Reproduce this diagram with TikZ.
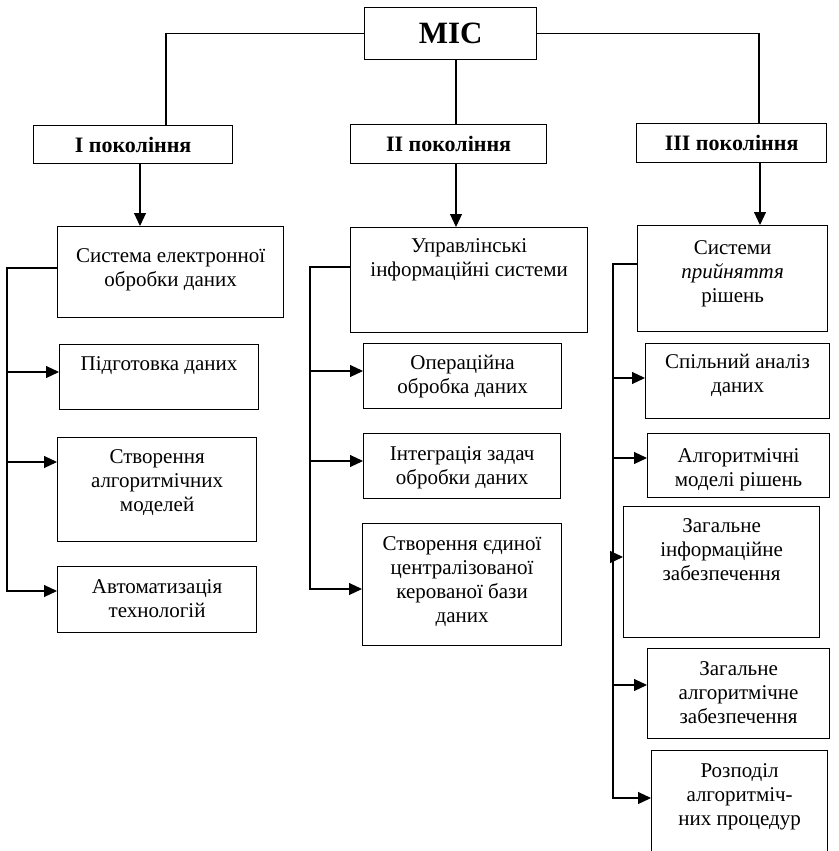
\documentclass[tikz,border=0pt]{standalone}
\usepackage{fontspec}
\setmainfont{Liberation Serif}
\usetikzlibrary{arrows.meta}
\newcommand{\tl}[1]{\begin{tabular}[t]{@{}c@{}}#1\end{tabular}}
\begin{document}
\begin{tikzpicture}[x=1pt,y=-1pt,
  box/.style={draw, line width=1.2pt, inner sep=0pt, anchor=north west},
  txt/.style={inner sep=0pt, anchor=base, font=\fontsize{21}{24}\selectfont},
  hdr/.style={draw, line width=1.2pt, inner sep=0pt, anchor=north west, font=\fontsize{22}{26}\selectfont\bfseries},
  ln/.style={line width=1.1pt},
  arr/.style={line width=1.1pt, -{Triangle[length=13pt,width=12pt]}},
]
\useasboundingbox (0,0) rectangle (838,851);
\fill[white] (0,0) rectangle (838,851);
\clip (0,0) rectangle (838,851);

% top and generation headers
\node[hdr, font=\fontsize{31}{34}\selectfont\bfseries, minimum width=172, minimum height=52] (mic) at (364,7) {МІС};
\node[hdr, minimum width=199, minimum height=38] (g1) at (33,125) {І покоління};
\node[hdr, minimum width=196, minimum height=39] (g2) at (350,124) {ІІ покоління};
\node[hdr, minimum width=190, minimum height=39] (g3) at (636,123) {ІІІ покоління};

% column I
\node[box, minimum width=226, minimum height=91] (s1) at (57,226) {};
\node[txt] (ts1) at ([yshift=-36pt]s1.north) {\tl{Система електронної\\обробки даних}};
\node[box, minimum width=199, minimum height=65] (a1) at (59,344) {};
\node[txt] (ta1) at ([yshift=-26pt]a1.north) {\tl{Підготовка даних}};
\node[box, minimum width=199, minimum height=104] (a2) at (57,437) {};
\node[txt] (ta2) at ([yshift=-26pt]a2.north) {\tl{Створення\\алгоритмічних\\моделей}};
\node[box, minimum width=199, minimum height=66] (a3) at (57,566) {};
\node[txt] (ta3) at ([yshift=-27pt]a3.north) {\tl{Автоматизація\\технологій}};

% column II
\node[box, minimum width=237, minimum height=105] (s2) at (350,227) {};
\node[txt] (ts2) at ([yshift=-25pt]s2.north) {\tl{Управлінські\\інформаційні системи}};
\node[box, minimum width=198, minimum height=65] (b1) at (363,343) {};
\node[txt] (tb1) at ([yshift=-26pt]b1.north) {\tl{Операційна\\обробка даних}};
\node[box, minimum width=197, minimum height=65] (b2) at (363,433) {};
\node[txt] (tb2) at ([yshift=-27pt]b2.north) {\tl{Інтеграція задач\\обробки даних}};
\node[box, minimum width=199, minimum height=122] (b3) at (362,523) {};
\node[txt] (tb3) at ([yshift=-27pt]b3.north) {\tl{Створення єдиної\\централізованої\\керованої бази\\даних}};

% column III
\node[box, minimum width=190, minimum height=106] (s3) at (637,225) {};
\node[txt] (ts3) at ([yshift=-29pt]s3.north) {\tl{Системи\\\textit{прийняття}\\рішень}};
\node[box, minimum width=184, minimum height=75] (c1) at (645,343) {};
\node[txt] (tc1) at ([yshift=-25pt]c1.north) {\tl{Спільний аналіз\\даних}};
\node[box, minimum width=182, minimum height=64] (c2) at (647,433) {};
\node[txt] (tc2) at ([yshift=-29pt]c2.north) {\tl{Алгоритмічні\\моделі рішень}};
\node[box, minimum width=196, minimum height=131] (c3) at (623,506) {};
\node[txt] (tc3) at ([yshift=-26pt]c3.north) {\tl{Загальне\\інформаційне\\забезпечення}};
\node[box, minimum width=182, minimum height=90] (c4) at (647,648) {};
\node[txt] (tc4) at ([yshift=-27pt]c4.north) {\tl{Загальне\\алгоритмічне\\забезпечення}};
\node[box, minimum width=176, minimum height=110] (c5) at (651,750) {};
\node[txt] (tc5) at ([yshift=-27pt]c5.north) {\tl{Розподіл\\алгоритміч-\\них процедур}};

% vertical line positions
\coordinate (v1) at (166,0);
\coordinate (v2) at (456,0);
\coordinate (v3) at (759,0);
\coordinate (w1) at (140,0);
\coordinate (w3) at (760,0);

\draw[ln] (mic.west) -| (g1.north -| v1);
\draw[ln] (mic.south -| v2) -- (g2.north -| v2);
\draw[ln] (mic.east) -| (g3.north -| v3);
\draw[arr] (g1.south -| w1) -- (s1.north -| w1);
\draw[arr] (g2.south -| v2) -- (s2.north -| v2);
\draw[arr] (g3.south -| w3) -- (s3.north -| w3);

% bus I
\coordinate (bus1) at (7,268);
\coordinate (p11) at ([yshift=-28pt]a1.north west);
\coordinate (p12) at ([yshift=-25pt]a2.north west);
\coordinate (p13) at ([yshift=-25pt]a3.north west);
\draw[arr] (s1.west |- bus1) -- (bus1) |- (p13);
\draw[arr] (bus1 |- p11) -- (p11);
\draw[arr] (bus1 |- p12) -- (p12);

% bus II
\coordinate (bus2) at (310,267);
\coordinate (p21) at ([yshift=-28pt]b1.north west);
\coordinate (p22) at ([yshift=-28pt]b2.north west);
\coordinate (p23) at ([yshift=-66pt]b3.north west);
\draw[arr] (s2.west |- bus2) -- (bus2) |- (p23);
\draw[arr] (bus2 |- p21) -- (p21);
\draw[arr] (bus2 |- p22) -- (p22);

% bus III
\coordinate (bus3) at (613,264);
\coordinate (p31) at ([yshift=-35pt]c1.north west);
\coordinate (p32) at ([yshift=-25pt]c2.north west);
\coordinate (p33) at ([yshift=-51pt]c3.north west);
\coordinate (p34) at ([yshift=-37pt]c4.north west);
\coordinate (p35) at ([yshift=-48pt]c5.north west);
\draw[arr] (s3.west |- bus3) -- (bus3) |- (p35);
\draw[arr] (bus3 |- p31) -- (p31);
\draw[arr] (bus3 |- p32) -- (p32);
\draw[arr] (bus3 |- p33) -- (p33);
\draw[arr] (bus3 |- p34) -- (p34);
\end{tikzpicture}
\end{document}
